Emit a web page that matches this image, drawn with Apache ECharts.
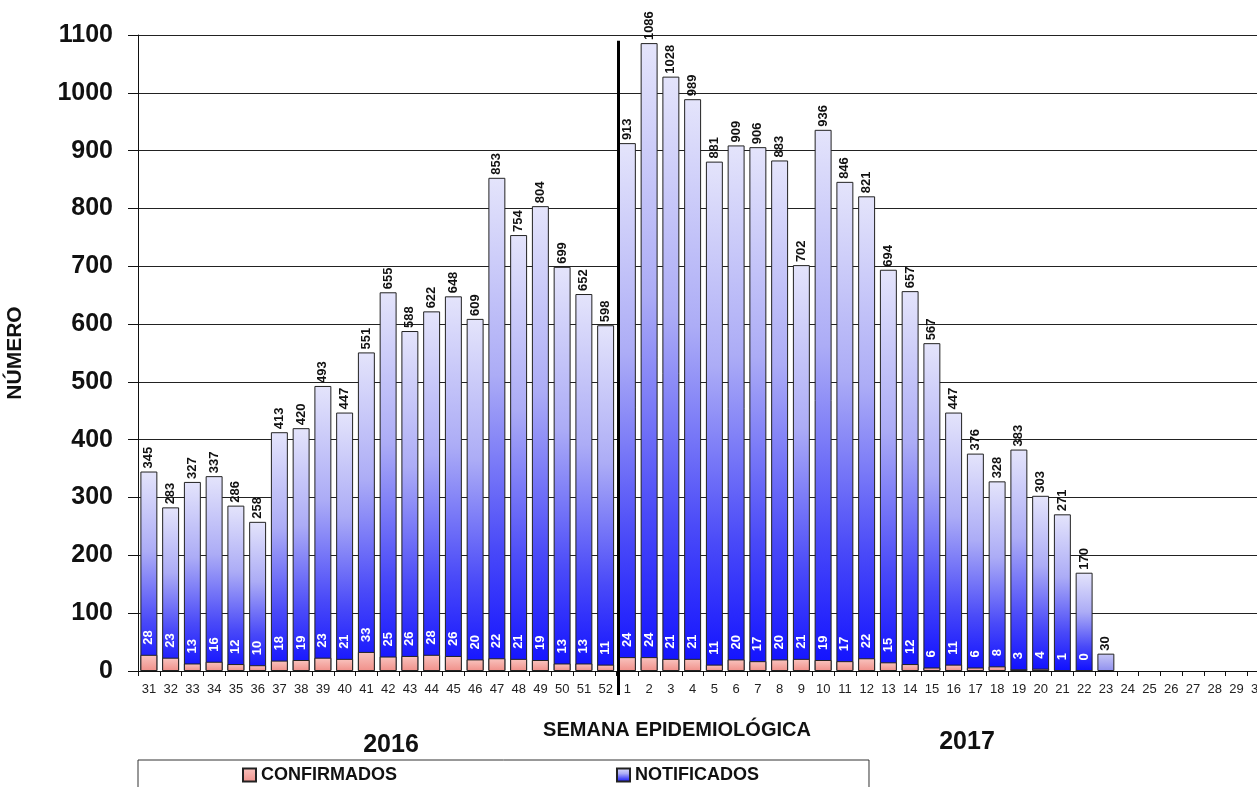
<!DOCTYPE html>
<html>
<head>
<meta charset="utf-8">
<script src="https://cdn.jsdelivr.net/npm/echarts@6/dist/echarts.min.js"></script>
<style>
html,body{margin:0;padding:0;background:#fff;}
#c{width:1257px;height:787px;}
</style>
</head>
<body>
<div id="c"></div>
<script>
var weeks = ['31','32','33','34','35','36','37','38','39','40','41','42','43','44','45','46','47','48','49','50','51','52',
  '1','2','3','4','5','6','7','8','9','10','11','12','13','14','15','16','17','18','19','20','21','22','23','24','25','26','27','28','29','30'];
var notificados = [345,283,327,337,286,258,413,420,493,447,551,655,588,622,648,609,853,754,804,699,652,598,
  913,1086,1028,989,881,909,906,883,702,936,846,821,694,657,567,447,376,328,383,303,271,170,30,
  null,null,null,null,null,null,null];
var confirmados = [28,23,13,16,12,10,18,19,23,21,33,25,26,28,26,20,22,21,19,13,13,11,
  24,24,21,21,11,20,17,20,21,19,17,22,15,12,6,11,6,8,3,4,1,0,null,
  null,null,null,null,null,null,null];
var yTicks = {min:0, max:1100, interval:100};

var FONT = '"Liberation Sans", Arial, sans-serif';
var chart = echarts.init(document.getElementById('c'));

function blueGrad(){
  return new echarts.graphic.LinearGradient(0,0,0,1,[
    {offset:0,color:'#e4e4fb'},{offset:0.4,color:'#acacf6'},{offset:0.75,color:'#4a4af8'},{offset:1,color:'#1010ff'}]);
}
function lightGrad(){
  return new echarts.graphic.LinearGradient(0,0,0,1,[
    {offset:0,color:'#c8c8f6'},{offset:1,color:'#9090ee'}]);
}
var redGrad = new echarts.graphic.LinearGradient(0,0,0,1,[
  {offset:0,color:'#f9c4bf'},{offset:1,color:'#f0908a'}]);

var blueData = notificados.map(function(v){
  if (v !== null && v < 100) return {value:v, itemStyle:{color:lightGrad()}};
  return v;
});

chart.setOption({
  animation:false,
  backgroundColor:'#fff',
  grid:{left:138, top:35, bottom:116, width:1131, containLabel:false, outerBoundsMode:'none'},
  title:[
    {text:'SEMANA EPIDEMIOLÓGICA', left:672, top:725, textAlign:'center', textVerticalAlign:'middle',
      textStyle:{fontFamily:FONT, fontWeight:'bold', fontSize:20, color:'#111'}},
    {text:'2016', left:386, top:740, textAlign:'center', textVerticalAlign:'middle',
      textStyle:{fontFamily:FONT, fontWeight:'bold', fontSize:25, color:'#111'}},
    {text:'2017', left:962, top:737, textAlign:'center', textVerticalAlign:'middle',
      textStyle:{fontFamily:FONT, fontWeight:'bold', fontSize:25, color:'#111'}}
  ],
  legend:{
    left:138, top:760,
    data:['CONFIRMADOS','NOTIFICADOS'],
    orient:'horizontal',
    padding:[6,110,20,104],
    itemGap:219,
    itemWidth:13, itemHeight:13,
    borderColor:'#333', borderWidth:1,
    icon:'rect',
    textStyle:{fontFamily:FONT, fontWeight:'bold', fontSize:18, color:'#111'}
  },
  xAxis:{
    type:'category', data:weeks,
    boundaryGap:true,
    axisLine:{lineStyle:{color:'#111', width:1}},
    axisTick:{show:true, length:5, lineStyle:{color:'#111'}},
    axisLabel:{interval:0, margin:12, fontFamily:FONT, fontSize:13, color:'#222'},
    splitLine:{show:false}
  },
  yAxis:{
    type:'value', min:yTicks.min, max:yTicks.max, interval:yTicks.interval,
    name:'NÚMERO', nameLocation:'middle', nameGap:112, nameRotate:90,
    nameTextStyle:{fontFamily:FONT, fontWeight:'bold', fontSize:21, color:'#111'},
    axisLine:{show:true, lineStyle:{color:'#111', width:1}},
    axisTick:{show:true, length:10, lineStyle:{color:'#111'}},
    axisLabel:{margin:25, fontFamily:FONT, fontWeight:'bold', fontSize:25, color:'#111',
      formatter:function(v){ return String(v); }},
    splitLine:{show:true, lineStyle:{color:'#222', width:1}}
  },
  series:[
    {
      name:'NOTIFICADOS', type:'bar', data:blueData,
      barCategoryGap:'22%', barGap:'-100%',
      itemStyle:{color:blueGrad(), borderColor:'#222', borderWidth:1},
      label:{show:true, position:'top', rotate:90, align:'left', verticalAlign:'middle', distance:3,
        fontFamily:FONT, fontWeight:'bold', fontSize:13, color:'#111'},
      z:2
    },
    {
      name:'CONFIRMADOS', type:'bar', data:confirmados,
      barCategoryGap:'22%', barGap:'-100%',
      itemStyle:{color:redGrad, borderColor:'#222', borderWidth:1},
      label:{show:true, position:'top', rotate:90, align:'left', verticalAlign:'middle', distance:10,
        fontFamily:FONT, fontWeight:'bold', fontSize:13, color:'#fff'},
      z:3
    }
  ]
});

// divider line between 2016 and 2017 weeks
var xa = chart.convertToPixel({xAxisIndex:0}, '52');
var xb = chart.convertToPixel({xAxisIndex:0}, '1');
var yTop = chart.convertToPixel({yAxisIndex:0}, 1090);
var yZero = chart.convertToPixel({yAxisIndex:0}, 0);
var xm = (xa + xb) / 2 + 2;
chart.setOption({
  graphic:[{type:'line', shape:{x1:xm, y1:yTop, x2:xm, y2:yZero + 24},
    style:{stroke:'#000', lineWidth:3}, z:100}]
});
</script>
</body>
</html>
